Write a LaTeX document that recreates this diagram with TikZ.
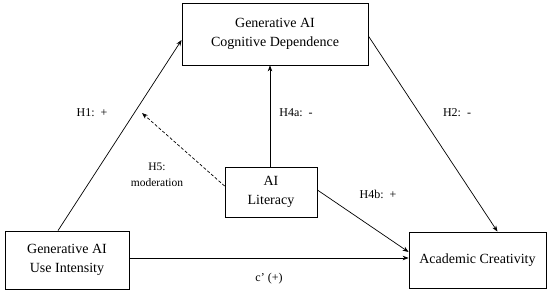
\documentclass[tikz,border=0pt]{standalone}
\usepackage{fontspec}
\setmainfont{Liberation Serif}
\usetikzlibrary{arrows.meta}
\begin{document}
\begin{tikzpicture}[x=1pt,y=-1pt,
  box/.style={draw, line width=0.8pt, align=center, inner sep=0pt,
    font=\fontsize{14}{19}\selectfont},
  lbl/.style={align=center, font=\fontsize{12}{16}\selectfont, inner sep=0pt},
  arr/.style={line width=0.7pt, -{Stealth[length=6pt,width=4.5pt]}}
]
\useasboundingbox (0,0) rectangle (550,294);
\fill[white] (0,0) rectangle (550,294);
\node[box, minimum width=186pt, minimum height=62pt] (dep) at (275,34) {Generative AI\\Cognitive Dependence};
\node[box, minimum width=124pt, minimum height=58pt] (use) at (67,260) {Generative AI\\Use Intensity};
\node[box, minimum width=92pt, minimum height=50pt] (lit) at (271,192) {AI\\Literacy};
\node[box, minimum width=137pt, minimum height=56pt] (cre) at (477.5,260) {Academic Creativity};
\coordinate (mod) at (142,113);

\draw[arr] ([xshift=-9pt]use.north) -- ([yshift=-6pt]dep.west);
\draw[arr] ([yshift=-2pt]dep.east) -- ([xshift=20pt]cre.north);
\draw[arr] ([xshift=-1pt]lit.north) -- ([xshift=-1pt]lit.north |- dep.south);
\draw[arr] ([yshift=2pt]lit.east) -- ([yshift=8pt]cre.west);
\draw[arr] ([yshift=2pt]use.east) -- ([yshift=2pt]use.east -| cre.west);
\draw[arr, dashed, dash pattern=on 3pt off 2pt] ([yshift=6pt]lit.west) -- (mod);

\node[lbl] (l1) at (92,113) {H1:\ \ +};
\node[lbl] (l4a) at (296,113) {H4a:\ \ -};
\node[lbl] (l2) at (457,113) {H2:\ \ -};
\node[lbl, font=\fontsize{11.5}{16}\selectfont] (l5) at (157,175) {H5:\\moderation};
\node[lbl] (l4b) at (378,194) {H4b:\ \ +};
\node[lbl] (lc) at (269,279) {c’ (+)};
\end{tikzpicture}
\end{document}
